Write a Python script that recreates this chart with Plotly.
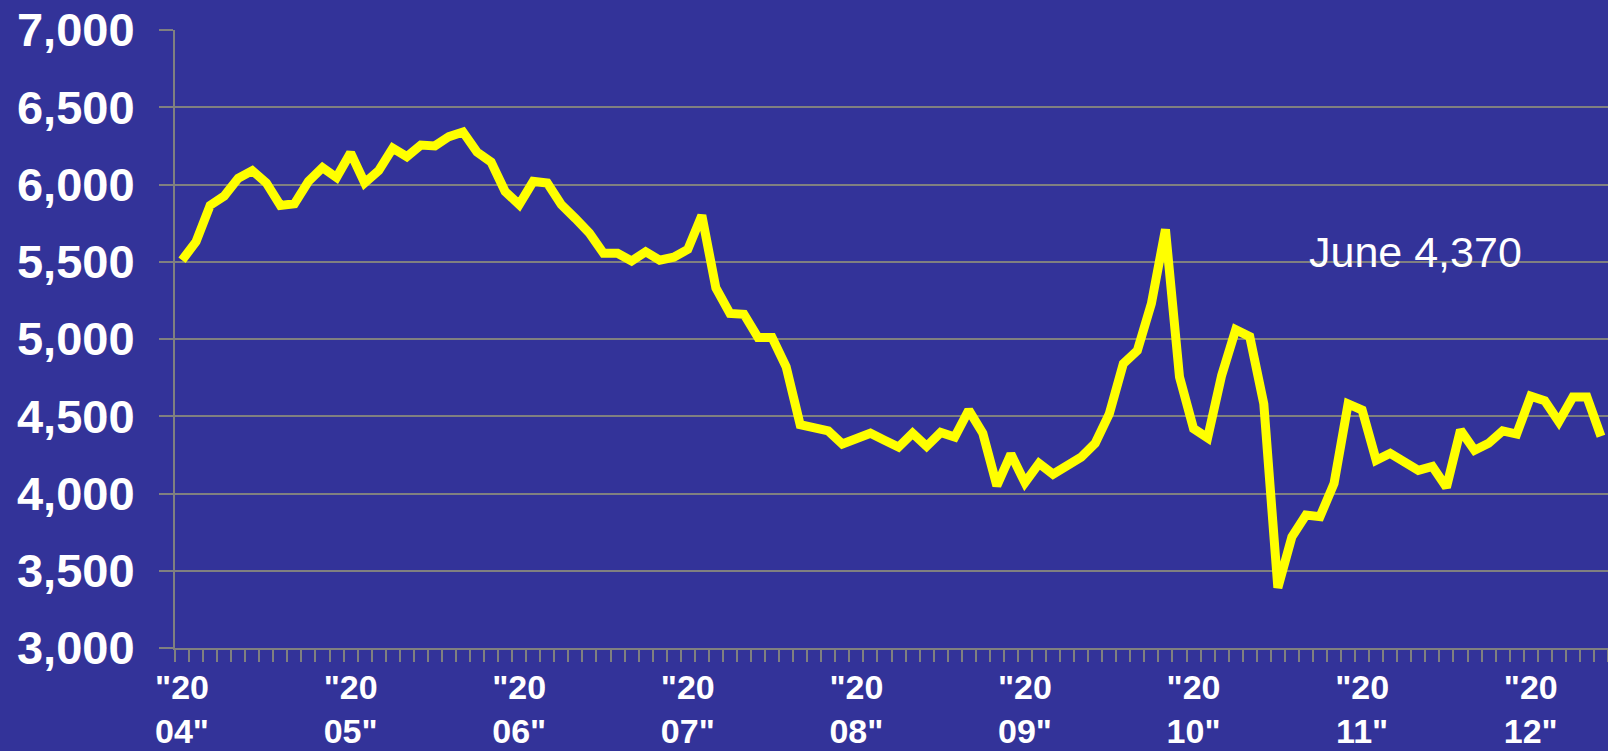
import plotly.graph_objects as go

# Monthly values, Jan 2004 .. Jun 2012
months = list(range(102))
values = [
    5510, 5630, 5865, 5925, 6040, 6090, 6010, 5865, 5875, 6020, 6110, 6045,
    6205, 6010, 6090, 6235, 6180, 6255, 6250, 6310, 6340, 6210, 6145, 5955,
    5870, 6020, 6010, 5870, 5780, 5685, 5555, 5555, 5505, 5565, 5510, 5530,
    5580, 5800, 5330, 5165, 5160, 5010, 5010, 4820, 4445, 4425, 4405, 4320,
    4360, 4390, 4345, 4300, 4390, 4305, 4395, 4365, 4540, 4390, 4050, 4255,
    4070, 4195, 4125, 4180, 4235, 4325, 4515, 4840, 4925, 5230, 5710, 4755,
    4420, 4360, 4765, 5060, 5015, 4580, 3390, 3720, 3860, 3850, 4065, 4580,
    4540, 4215, 4260, 4205, 4150, 4175, 4040, 4410, 4280, 4325, 4405, 4385,
    4630, 4600, 4465, 4625, 4625, 4370,
]
year_ticks = [0, 12, 24, 36, 48, 60, 72, 84, 96]
year_labels = ['"20<br>04"', '"20<br>05"', '"20<br>06"', '"20<br>07"', '"20<br>08"',
               '"20<br>09"', '"20<br>10"', '"20<br>11"', '"20<br>12"']
y_ticks = [3000, 3500, 4000, 4500, 5000, 5500, 6000, 6500, 7000]
note_text = "June 4,370"
note_x, note_y = 87.8, 5560

BG = "#333399"
GRID = "#808080"
FONT = "Liberation Sans, Arial, sans-serif"

fig = go.Figure()
fig.add_trace(go.Scatter(
    x=months, y=values, mode="lines",
    line=dict(color="#FFFF00", width=9),
    hoverinfo="skip", showlegend=False,
))

fig.add_annotation(
    x=note_x, y=note_y, xref="x", yref="y", text=note_text, showarrow=False,
    font=dict(family=FONT, size=43, color="white"),
)

fig.update_layout(
    width=1608, height=751,
    margin=dict(l=175, r=0, t=30, b=103, autoexpand=False),
    paper_bgcolor=BG, plot_bgcolor=BG,
    font=dict(family=FONT, color="white"),
    showlegend=False,
)

fig.update_xaxes(
    range=[-0.5, 101.5], automargin=False,
    tickmode="array", tickvals=year_ticks, ticktext=year_labels,
    ticks="", showgrid=False, zeroline=False,
    showline=True, linecolor=GRID, linewidth=2,
    tickfont=dict(family=FONT, size=34, color="white", weight="bold"),
    ticklabelstandoff=8,
    minor=dict(tickmode="linear", tick0=-0.5, dtick=1, ticks="outside",
               ticklen=12, tickcolor=GRID, tickwidth=2, showgrid=False),
)

fig.update_yaxes(
    range=[3000, 7000], automargin=False,
    tickmode="array", tickvals=y_ticks, tickformat=",",
    ticks="outside", ticklen=14, tickcolor=GRID, tickwidth=2,
    showgrid=True, gridcolor=GRID, gridwidth=1.5, zeroline=False,
    showline=True, linecolor=GRID, linewidth=2,
    tickfont=dict(family=FONT, size=47, color="white", weight="bold"),
    ticklabelstandoff=15,
)

fig.write_html("out.html")
